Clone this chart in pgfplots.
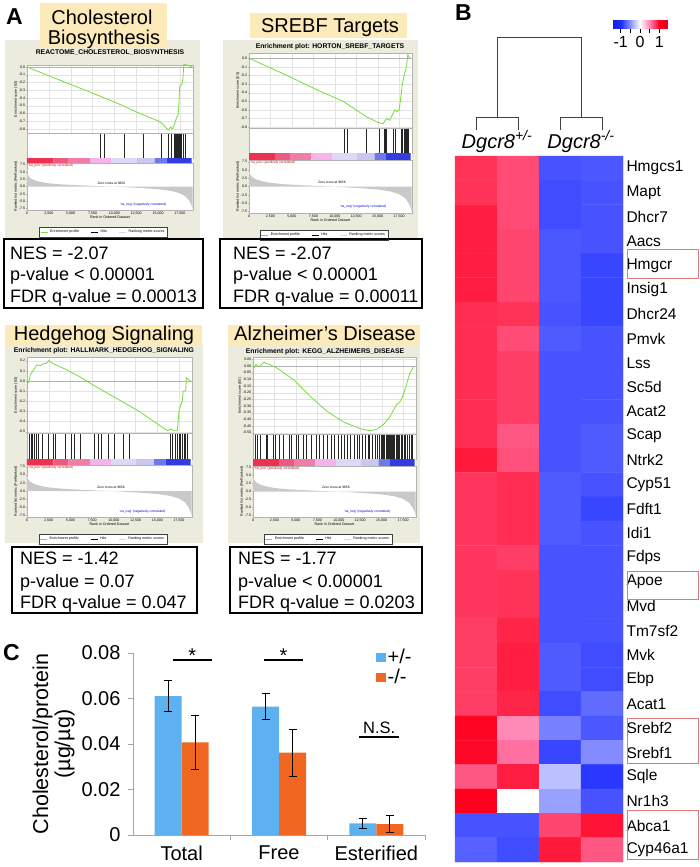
\documentclass[border=0pt]{standalone}
\usepackage{fontspec}
\setmainfont{Liberation Sans}
\setsansfont{Liberation Sans}
\usepackage{pgfplots}
\usepackage{pgfplotstable}
\pgfplotsset{compat=1.18}
\pgfkeys{/pgf/number format/assume math mode=true}

\definecolor{gbg}{RGB}{236,236,222}
\definecolor{ybox}{RGB}{252,234,186}
\definecolor{esgreen}{RGB}{120,220,60}
\definecolor{barblue}{RGB}{93,177,240}
\definecolor{barorange}{RGB}{241,103,34}
\definecolor{boxred}{RGB}{225,120,120}
\definecolor{axgray}{RGB}{165,165,165}
\definecolor{cbA}{RGB}{236,50,80}
\definecolor{cbB}{RGB}{236,90,130}
\definecolor{cbC}{RGB}{240,125,168}
\definecolor{cbD}{RGB}{246,180,232}
\definecolor{cbE}{RGB}{222,216,246}
\definecolor{cbF}{RGB}{200,200,240}
\definecolor{cbG}{RGB}{110,120,232}
\definecolor{cbH}{RGB}{50,60,225}

\newcommand\gt{\fontsize{3.6}{4}\selectfont}
\newcommand\gts{\fontsize{3.3}{4}\selectfont}
\newcommand\nesf{\fontsize{18}{20}\selectfont}
\newcommand\ttl{\fontsize{20}{22}\selectfont}
\newcommand\gtitle{\bfseries\fontsize{6.8}{8}\selectfont}

\pgfplotsset{
  colormap={hm}{rgb255(0pt)=(20,30,235) rgb255(4pt)=(30,45,255) rgb255(14pt)=(255,255,255) rgb255(19pt)=(255,125,175) rgb255(24pt)=(255,0,30) rgb255(28pt)=(235,0,30)},
  gbase/.style={anchor=north west, scale only axis, xmin=0, xmax=19000,
    axis background/.style={fill=white},
    axis line style={gray!60, line width=0.3pt},
    tick style={gray!60, line width=0.25pt}, major tick length=1pt,
    tick align=outside, tick pos=left,
    tick label style={font=\gt, inner sep=0.6pt},
    label style={font=\gt, inner sep=0.5pt},
    scaled ticks=false, clip=true},
  gleg/.style={legend image code/.code={\draw[##1] (0pt,0pt) -- (7pt,0pt);}}
}

% ranked list metric (same for all panels)
\pgfplotstableread[row sep=\\]{x y\\ 0 5.2\\ 150 3.6\\ 400 2.8\\ 800 2.2\\ 1500 1.6\\ 2500 1.1\\ 4000 0.7\\ 6000 0.4\\ 8000 0.15\\ 9656 0\\ 11000 -0.2\\ 13000 -0.5\\ 15000 -0.9\\ 16500 -1.5\\ 17500 -2.3\\ 18200 -3.5\\ 18600 -5.0\\ 18850 -6.5\\ 18950 -7.6\\}\metric

% enrichment score profiles
\pgfplotstableread[row sep=\\]{x y\\ 0 0\\ 2000 -0.09\\ 4000 -0.18\\ 6000 -0.27\\ 8000 -0.36\\ 9500 -0.43\\ 11000 -0.50\\ 12500 -0.58\\ 14000 -0.65\\ 14900 -0.69\\ 15500 -0.73\\ 15800 -0.77\\ 16170 -0.815\\ 16430 -0.775\\ 16660 -0.80\\ 16930 -0.72\\ 17100 -0.66\\ 17300 -0.62\\ 17400 -0.45\\ 17450 -0.28\\ 17500 -0.24\\ 17750 -0.22\\ 17850 -0.15\\ 17950 0.04\\ 18200 0.03\\ 18900 0.0\\}\esA
\pgfplotstableread[row sep=\\]{x y\\ 0 0\\ 4000 -0.18\\ 8000 -0.37\\ 10970 -0.50\\ 13690 -0.68\\ 15050 -0.746\\ 15630 -0.76\\ 15830 -0.73\\ 16020 -0.70\\ 16410 -0.72\\ 16600 -0.68\\ 16800 -0.64\\ 16990 -0.60\\ 17270 -0.62\\ 17500 -0.60\\ 17660 -0.48\\ 17890 -0.29\\ 18160 -0.17\\ 18360 -0.10\\ 18510 0.04\\ 18750 0.0\\}\esB
\pgfplotstableread[row sep=\\]{x y\\ 0 0\\ 190 -0.017\\ 380 0.06\\ 760 0.11\\ 1140 0.16\\ 1520 0.15\\ 1900 0.17\\ 2280 0.175\\ 2470 0.20\\ 3040 0.17\\ 4565 0.11\\ 6090 0.04\\ 7610 -0.04\\ 10270 -0.17\\ 12930 -0.30\\ 15220 -0.435\\ 16170 -0.49\\ 16550 -0.475\\ 16930 -0.49\\ 17310 -0.49\\ 17500 -0.30\\ 17690 -0.24\\ 17880 -0.20\\ 17990 -0.10\\ 18260 -0.10\\ 18370 0.03\\ 18640 0.01\\ 18830 0.0\\}\esC
\pgfplotstableread[row sep=\\]{x y\\ 0 0.005\\ 154 -0.01\\ 347 0.0125\\ 732 -0.005\\ 1118 0.02\\ 1310 0.03\\ 1503 0.02\\ 2080 0.0075\\ 2850 -0.0175\\ 4780 -0.105\\ 6710 -0.23\\ 8635 -0.34\\ 10560 -0.42\\ 12490 -0.47\\ 13650 -0.485\\ 14420 -0.475\\ 15190 -0.44\\ 15960 -0.38\\ 16730 -0.29\\ 17120 -0.27\\ 17500 -0.22\\ 17890 -0.14\\ 18270 -0.055\\ 18500 -0.03\\ 18735 0.0\\}\esD

% hits
\pgfplotstableread[row sep=\\]{x y\\ 8370 1\\ 8825 1\\ 11150 1\\ 13315 1\\ 15330 1\\ 16170 1\\ 16550 1\\ 16815 1\\ 16950 1\\ 17040 1\\ 17150 1\\ 17250 1\\ 17310 1\\ 17400 1\\ 17500 1\\ 17690 1\\ 17880 1\\ 18070 1\\}\hitA
\pgfplotstableread[row sep=\\]{x y\\ 11045 1\\ 11434 1\\ 13690 1\\ 15167 1\\ 15711 1\\ 15906 1\\ 16023 1\\ 16800 1\\ 16995 1\\ 17773 1\\ 17890 1\\ 18045 1\\ 18162 1\\ 18278 1\\ 18434 1\\ 18590 1\\}\hitB
\pgfplotstableread[row sep=\\]{x y\\ 266 1\\ 456 1\\ 647 1\\ 837 1\\ 1027 1\\ 1331 1\\ 1712 1\\ 2473 1\\ 3043 1\\ 3233 1\\ 4375 1\\ 5135 1\\ 5402 1\\ 6086 1\\ 7798 1\\ 8179 1\\ 8559 1\\ 9320 1\\ 10081 1\\ 11032 1\\ 11792 1\\ 16471 1\\ 16738 1\\ 17118 1\\ 17308 1\\ 17498 1\\ 17689 1\\ 17879 1\\ 18069 1\\ 18259 1\\ 18449 1\\}\hitC
\pgfplotstableread[row sep=\\]{x y\\ 300 1\\ 500 1\\ 900 1\\ 1500 1\\ 1700 1\\ 2300 1\\ 2600 1\\ 3100 1\\ 3500 1\\ 4200 1\\ 4400 1\\ 5000 1\\ 5300 1\\ 5900 1\\ 6200 1\\ 6800 1\\ 7400 1\\ 7700 1\\ 8200 1\\ 8600 1\\ 9100 1\\ 9500 1\\ 9900 1\\ 10300 1\\ 10600 1\\ 11000 1\\ 11300 1\\ 11800 1\\ 12100 1\\ 12400 1\\ 12700 1\\ 13100 1\\ 13400 1\\ 13600 1\\ 13900 1\\ 14200 1\\ 14500 1\\ 14700 1\\ 14900 1\\ 15100 1\\ 15200 1\\ 15350 1\\ 15500 1\\ 15600 1\\ 15700 1\\ 15800 1\\ 15900 1\\ 16000 1\\ 16100 1\\ 16200 1\\ 16300 1\\ 16400 1\\ 16500 1\\ 16650 1\\ 16800 1\\ 16950 1\\ 17100 1\\ 17250 1\\ 17400 1\\ 17600 1\\ 17800 1\\ 18000 1\\ 18200 1\\ 18400 1\\ 18600 1\\}\hitD

% heatmap values (column, row, z-score)
\pgfplotstableread[row sep=\\]{x y c\\
0 0 0.80\\ 1 0 0.70\\ 2 0 -0.82\\ 3 0 -0.80\\
0 1 0.80\\ 1 1 0.70\\ 2 1 -0.85\\ 3 1 -0.82\\
0 2 0.88\\ 1 2 0.70\\ 2 2 -0.85\\ 3 2 -0.82\\
0 3 0.88\\ 1 3 0.72\\ 2 3 -0.80\\ 3 3 -0.82\\
0 4 0.88\\ 1 4 0.72\\ 2 4 -0.80\\ 3 4 -0.88\\
0 5 0.88\\ 1 5 0.72\\ 2 5 -0.80\\ 3 5 -0.88\\
0 6 0.82\\ 1 6 0.80\\ 2 6 -0.82\\ 3 6 -0.88\\
0 7 0.82\\ 1 7 0.70\\ 2 7 -0.78\\ 3 7 -0.82\\
0 8 0.82\\ 1 8 0.75\\ 2 8 -0.82\\ 3 8 -0.82\\
0 9 0.82\\ 1 9 0.75\\ 2 9 -0.82\\ 3 9 -0.82\\
0 10 0.82\\ 1 10 0.75\\ 2 10 -0.82\\ 3 10 -0.82\\
0 11 0.82\\ 1 11 0.65\\ 2 11 -0.82\\ 3 11 -0.78\\
0 12 0.90\\ 1 12 0.68\\ 2 12 -0.82\\ 3 12 -0.78\\
0 13 0.78\\ 1 13 0.82\\ 2 13 -0.78\\ 3 13 -0.82\\
0 14 0.78\\ 1 14 0.82\\ 2 14 -0.78\\ 3 14 -0.88\\
0 15 0.78\\ 1 15 0.82\\ 2 15 -0.78\\ 3 15 -0.82\\
0 16 0.78\\ 1 16 0.75\\ 2 16 -0.82\\ 3 16 -0.82\\
0 17 0.78\\ 1 17 0.80\\ 2 17 -0.82\\ 3 17 -0.82\\
0 18 0.78\\ 1 18 0.80\\ 2 18 -0.82\\ 3 18 -0.82\\
0 19 0.75\\ 1 19 0.85\\ 2 19 -0.82\\ 3 19 -0.82\\
0 20 0.75\\ 1 20 0.88\\ 2 20 -0.78\\ 3 20 -0.85\\
0 21 0.75\\ 1 21 0.88\\ 2 21 -0.78\\ 3 21 -0.85\\
0 22 0.75\\ 1 22 0.85\\ 2 22 -0.85\\ 3 22 -0.70\\
0 23 0.98\\ 1 23 0.45\\ 2 23 -0.60\\ 3 23 -0.80\\
0 24 0.97\\ 1 24 0.55\\ 2 24 -0.88\\ 3 24 -0.55\\
0 25 0.65\\ 1 25 0.88\\ 2 25 -0.30\\ 3 25 -0.95\\
0 26 1.00\\ 1 26 0.00\\ 2 26 -0.45\\ 3 26 -0.82\\
0 27 -0.82\\ 1 27 -0.82\\ 2 27 0.72\\ 3 27 0.92\\
0 28 -0.75\\ 1 28 -0.85\\ 2 28 0.90\\ 3 28 0.65\\
}\hmtab

\newcommand\cbseg[3]{\addplot[fill=#3, draw=none] coordinates {(#1,0) (#1,1) (#2,1) (#2,0)} \closedcycle;}
\newcommand\cbsegments{\cbseg{0}{3043}{cbA}\cbseg{3043}{4755}{cbB}\cbseg{4755}{7228}{cbC}\cbseg{7228}{9700}{cbD}\cbseg{9700}{12553}{cbE}\cbseg{12553}{14645}{cbF}\cbseg{14645}{15977}{cbG}\cbseg{15977}{18830}{cbH}}

% #1 L, #2 R, #3 ES top, #4 ES bottom, #5 hits bottom, #6 bar bottom, #7 metric bottom, #8 ES table, #9 hits table
\newcommand{\gsea}[9]{%
\pgfmathsetmacro\gW{#2-#1}%
\pgfmathsetmacro\gHa{#4-#3}%
\pgfmathsetmacro\gHb{#5-#4}%
\pgfmathsetmacro\gHc{#6-#5}%
\pgfmathsetmacro\gHd{#7-#6}%
\begin{axis}[gbase, at={(#1pt,-#3pt)}, width=\gW pt, height=\gHa pt,
  ymin=\esmin, ymax=\esmax, ytick distance=\esstep,
  yticklabel style={/pgf/number format/.cd, fixed, fixed zerofill, precision=\esprec},
  xtick distance=2500, xticklabels={}, grid=major, grid style={gray!22, line width=0.25pt},
  ylabel={Enrichment score (ES)}]
  \addplot[gray!60, line width=0.3pt] coordinates {(0,0) (19000,0)};
  \addplot[esgreen, line width=0.8pt] table {#8};
\end{axis}
\begin{axis}[gbase, at={(#1pt,-#4pt)}, width=\gW pt, height=\gHb pt,
  ymin=0, ymax=1.04, xtick=\empty, ytick=\empty]
  \addplot[ycomb, black!85, line width=0.45pt] table {#9};
\end{axis}
\begin{axis}[gbase, at={(#1pt,-#5pt)}, width=\gW pt, height=\gHc pt,
  ymin=0, ymax=1, xtick=\empty, ytick=\empty, axis line style={draw=none}]
  \cbsegments
\end{axis}
\begin{axis}[gbase, gleg, at={(#1pt,-#6pt)}, width=\gW pt, height=\gHd pt,
  ymin=-8, ymax=8, ytick={-7.5,-5,-2.5,0,2.5,5,7.5},
  yticklabel style={/pgf/number format/.cd, fixed, fixed zerofill, precision=1},
  xtick distance=2500, xticklabel style={/pgf/number format/.cd, 1000 sep={,}},
  xlabel={Rank in Ordered Dataset}, ylabel={Ranked list metric (PreRanked)},
  legend style={at={(0.46,0)}, anchor=center, yshift=-22pt, font=\gt, draw=gray!50!black,
    line width=0.3pt, inner sep=0.8pt, legend columns=3,
    /tikz/every even column/.append style={column sep=10pt}}]
  \addlegendimage{esgreen, line width=0.8pt}\addlegendentry{Enrichment profile}
  \addlegendimage{black, line width=0.5pt}\addlegendentry{Hits}
  \addlegendimage{gray!30, line width=0.8pt}\addlegendentry{Ranking metric scores}
  \addplot[fill=gray!42, draw=none, forget plot] table {\metric} \closedcycle;
  \node[anchor=north west, font=\gts, text=red!85!black, inner sep=0.4pt] at (axis cs:100,7.7) {'na\_pos' (positively correlated)};
  \node[anchor=south, font=\gts, inner sep=0.4pt] at (axis cs:9656,0.6) {Zero cross at 9656};
  \node[font=\gts, text=blue!80!black, inner sep=0.4pt] at (axis cs:13300,-6.2) {'na\_neg' (negatively correlated)};
\end{axis}
}

\begin{document}
\begin{tikzpicture}
\path[use as bounding box] (0pt,0pt) rectangle (700pt,-867pt);

% ---------- Panel A backgrounds and titles ----------
\fill[gbg] (5pt,-40pt) rectangle (200pt,-239pt);
\fill[gbg] (223pt,-40pt) rectangle (418pt,-239pt);
\fill[gbg] (5pt,-345pt) rectangle (203pt,-543pt);
\fill[gbg] (228pt,-345pt) rectangle (420pt,-543pt);

\fill[ybox] (40pt,-3pt) rectangle (167pt,-47pt);
\node[font=\ttl, anchor=base, inner sep=0pt] at (102pt,-25pt) {Cholesterol};
\node[font=\ttl, anchor=base, inner sep=0pt] at (104pt,-45pt) {Biosynthesis};
\fill[ybox] (250pt,-13pt) rectangle (407pt,-38pt);
\node[font=\ttl, anchor=base, inner sep=0pt] at (330pt,-33pt) {SREBF Targets};
\fill[ybox] (5pt,-325pt) rectangle (202pt,-345pt);
\node[font=\ttl, anchor=base, inner sep=0pt] at (104pt,-340pt) {Hedgehog Signaling};
\fill[ybox] (228pt,-325pt) rectangle (420pt,-345pt);
\node[font=\ttl, anchor=base, inner sep=0pt] at (325pt,-340pt) {Alzheimer’s Disease};

\node[font=\gtitle, inner sep=0pt] at (110pt,-53pt) {REACTOME\_CHOLESTEROL\_BIOSYNTHESIS};
\node[font=\gtitle, inner sep=0pt] at (330pt,-47pt) {Enrichment plot: HORTON\_SREBF\_TARGETS};
\node[font=\gtitle, inner sep=0pt] at (104pt,-351pt) {Enrichment plot: HALLMARK\_HEDGEHOG\_SIGNALING};
\node[font=\gtitle, inner sep=0pt] at (325pt,-352pt) {Enrichment plot: KEGG\_ALZHEIMERS\_DISEASE};

% ---------- GSEA plots ----------
\def\esmin{-0.852}\def\esmax{0.026}\def\esstep{0.1}\def\esprec{1}
\gsea{27}{193}{65}{133}{158}{163}{210}{\esA}{\hitA}
\def\esmin{-0.81}\def\esmax{0.061}\def\esstep{0.1}\def\esprec{1}
\gsea{249}{412}{53}{128}{153}{160}{213}{\esB}{\hitB}
\def\esmin{-0.513}\def\esmax{0.236}\def\esstep{0.1}\def\esprec{1}
\gsea{27}{192}{357}{433}{459}{465}{517}{\esC}{\hitC}
\def\esmin{-0.51}\def\esmax{0.0675}\def\esstep{0.05}\def\esprec{2}
\gsea{253}{416}{357}{434}{459}{466}{517}{\esD}{\hitD}

% ---------- NES boxes ----------
\draw[line width=1.3pt] (4pt,-239pt) rectangle (203pt,-308pt);
\node[font=\nesf, anchor=base west, inner sep=0pt] at (10pt,-259pt) {NES = -2.07};
\node[font=\nesf, anchor=base west, inner sep=0pt] at (10pt,-280pt) {p-value < 0.00001};
\node[font=\nesf, anchor=base west, inner sep=0pt] at (10pt,-302pt) {FDR q-value = 0.00013};
\draw[line width=1.3pt] (220pt,-239pt) rectangle (422pt,-308pt);
\node[font=\nesf, anchor=base west, inner sep=0pt] at (233pt,-259pt) {NES = -2.07};
\node[font=\nesf, anchor=base west, inner sep=0pt] at (233pt,-280pt) {p-value < 0.00001};
\node[font=\nesf, anchor=base west, inner sep=0pt] at (233pt,-302pt) {FDR q-value = 0.00011};
\draw[line width=1.3pt] (12pt,-547pt) rectangle (197pt,-613pt);
\node[font=\nesf, anchor=base west, inner sep=0pt] at (20pt,-564pt) {NES = -1.42};
\node[font=\nesf, anchor=base west, inner sep=0pt] at (20pt,-587pt) {p-value = 0.07};
\node[font=\nesf, anchor=base west, inner sep=0pt] at (20pt,-608pt) {FDR q-value = 0.047};
\draw[line width=1.3pt] (230pt,-547pt) rectangle (422pt,-613pt);
\node[font=\nesf, anchor=base west, inner sep=0pt] at (238pt,-564pt) {NES = -1.77};
\node[font=\nesf, anchor=base west, inner sep=0pt] at (238pt,-587pt) {p-value < 0.00001};
\node[font=\nesf, anchor=base west, inner sep=0pt] at (238pt,-608pt) {FDR q-value = 0.0203};

% ---------- panel letters ----------
\node[font=\bfseries\fontsize{23}{23}\selectfont, anchor=base west, inner sep=0pt] at (6pt,-25pt) {A};
\node[font=\bfseries\fontsize{23}{23}\selectfont, anchor=base west, inner sep=0pt] at (455pt,-21pt) {B};
\node[font=\bfseries\fontsize{23}{23}\selectfont, anchor=base west, inner sep=0pt] at (3pt,-660pt) {C};

% ---------- Panel B heatmap ----------
\begin{axis}[at={(455pt,-156pt)}, anchor=north west, scale only axis, width=168pt, height=706pt,
  xmin=-0.5, xmax=3.5, ymin=-0.5, ymax=28.5, y dir=reverse, enlargelimits=false, clip=false,
  axis line style={draw=none}, xtick=\empty, ytick={0,...,28},
  yticklabels={Hmgcs1,Mapt,Dhcr7,Aacs,Hmgcr,Insig1,Dhcr24,Pmvk,Lss,Sc5d,Acat2,Scap,Ntrk2,Cyp51,Fdft1,Idi1,Fdps,Apoe,Mvd,Tm7sf2,Mvk,Ebp,Acat1,Srebf2,Srebf1,Sqle,Nr1h3,Abca1,Cyp46a1},
  yticklabel pos=right, ytick style={draw=none}, major tick length=0pt,
  yticklabel style={font=\fontsize{15.5}{16}\selectfont},
  colormap name=hm, point meta min=-1.4, point meta max=1.4]
  \addplot[matrix plot*, mesh/cols=4, point meta=explicit] table[meta=c] {\hmtab};
  % dendrogram
  \addplot[black!75, line width=0.9pt, forget plot] coordinates {(0,-1.57) (0,-2.1) (1,-2.1) (1,-1.57)};
  \addplot[black!75, line width=0.9pt, forget plot] coordinates {(2,-1.57) (2,-2.1) (3,-2.1) (3,-1.57)};
  \addplot[black!75, line width=0.9pt, forget plot] coordinates {(0.5,-2.1) (0.5,-5.35) (2.5,-5.35) (2.5,-2.1)};
  \node[font=\itshape\fontsize{20}{20}\selectfont] at (axis cs:0.5,-1.1) {Dgcr8\textsuperscript{+/-}};
  \node[font=\itshape\fontsize{20}{20}\selectfont] at (axis cs:2.5,-1.1) {Dgcr8\textsuperscript{-/-}};
  \draw[boxred, line width=0.8pt] (axis cs:3.6,3.32) rectangle (axis cs:5.29,4.51);
  \draw[boxred, line width=0.8pt] (axis cs:3.6,16.55) rectangle (axis cs:5.29,17.7);
  \draw[boxred, line width=0.8pt] (axis cs:3.6,22.59) rectangle (axis cs:5.29,24.44);
  \draw[boxred, line width=0.8pt] (axis cs:3.6,26.37) rectangle (axis cs:5.29,28.39);
\end{axis}

% colour key of the heatmap
\begin{axis}[at={(613pt,-20pt)}, anchor=north west, scale only axis, width=54pt, height=9pt,
  xmin=-1.4, xmax=1.4, ymin=0, ymax=1, enlargelimits=false,
  colormap name=hm, point meta min=-1.4, point meta max=1.4,
  axis line style={draw=none}, ytick=\empty,
  xtick={-1,-0.5,0,0.5,1}, xticklabels={-1,,0,,1}, xtick pos=bottom,
  tick align=outside, major tick length=4pt, xtick style={black, line width=0.6pt},
  xticklabel style={font=\fontsize{16}{16}\selectfont, inner sep=1pt, yshift=-2pt}]
  \addplot[surf, shader=interp, mesh/rows=2, point meta=x] coordinates {(-1.4,0) (-1,0) (0,0) (0.5,0) (1,0) (1.4,0) (-1.4,1) (-1,1) (0,1) (0.5,1) (1,1) (1.4,1)};
\end{axis}

% ---------- Panel C bar chart ----------
\begin{axis}[at={(133pt,-835pt)}, anchor=south west, scale only axis, width=292pt, height=182pt,
  xmin=-0.5, xmax=2.5, ymin=0, ymax=0.08, clip=false, scaled y ticks=false,
  axis x line*=bottom, axis y line*=left,
  axis line style={axgray, line width=0.8pt},
  xtick={0.5,1.5,2.5}, xticklabels={,,},
  extra x ticks={0,1,2}, extra x tick labels={Total,Free,Esterified},
  extra x tick style={major tick length=0pt, xticklabel style={yshift=-7pt}},
  tick align=outside, major tick length=5pt, tick style={axgray, line width=0.8pt},
  ytick={0,0.02,0.04,0.06,0.08}, yticklabels={0,0.02,0.04,0.06,0.08},
  yticklabel style={xshift=-4pt},
  tick label style={font=\fontsize{20}{22}\selectfont},
  ylabel={Cholesterol/protein\\(µg/µg)},
  ylabel style={align=center, font=\fontsize{21.5}{22}\selectfont},
  legend style={at={(0.82,1.045)}, anchor=north west, draw=none, fill=none,
    font=\fontsize{20}{22}\selectfont, legend cell align=left},
  legend image code/.code={\fill[#1] (0pt,-4.5pt) rectangle (10pt,4.5pt);}]
  \addlegendimage{fill=barblue, draw=none}\addlegendentry{+/-}
  \addlegendimage{fill=barorange, draw=none}\addlegendentry{-/-}
  \addplot[ybar, bar width=27pt, bar shift=0pt, fill=barblue, draw=none]
    coordinates {(-0.1387,0.0611) (0.8613,0.0564) (1.8613,0.0051)};
  \addplot[ybar, bar width=27pt, bar shift=0pt, fill=barorange, draw=none]
    coordinates {(0.1387,0.0407) (1.1387,0.0362) (2.1387,0.0048)};
  % error bars: stems
  \addplot[draw=none, mark=none, forget plot,
    error bars/.cd, y dir=both, y explicit, error mark=none,
    error bar style={draw=black, line width=0.8pt}]
    coordinates {(-0.1387,0.0611) +- (0,0.0068) (0.8613,0.0564) +- (0,0.0057) (1.8613,0.0051) +- (0,0.0022)
                 (0.1387,0.0407) +- (0,0.0120) (1.1387,0.0362) +- (0,0.0103) (2.1387,0.0048) +- (0,0.0038)};
  % error bars: caps (mean +- error)
  \addplot[black, only marks, mark=-, mark size=4pt, mark options={line width=0.8pt}, forget plot]
    coordinates {(-0.1387,0.0679) (-0.1387,0.0543) (0.8613,0.0621) (0.8613,0.0507) (1.8613,0.0073) (1.8613,0.0029)
                 (0.1387,0.0527) (0.1387,0.0287) (1.1387,0.0465) (1.1387,0.0259) (2.1387,0.0086) (2.1387,0.0010)};
  \draw[black, line width=1.5pt] (axis cs:-0.09,0.0769) -- (axis cs:0.31,0.0769);
  \node[font=\fontsize{20}{20}\selectfont, anchor=base, inner sep=0pt] at (axis cs:0.11,0.0757) {*};
  \draw[black, line width=1.5pt] (axis cs:0.846,0.0769) -- (axis cs:1.247,0.0769);
  \node[font=\fontsize{20}{20}\selectfont, anchor=base, inner sep=0pt] at (axis cs:1.046,0.0757) {*};
  \draw[black, line width=1.5pt] (axis cs:1.82,0.0431) -- (axis cs:2.23,0.0431);
  \node[font=\fontsize{16.5}{17}\selectfont, anchor=base, inner sep=0pt] at (axis cs:2.03,0.0448) {N.S.};
\end{axis}
\end{tikzpicture}
\end{document}
